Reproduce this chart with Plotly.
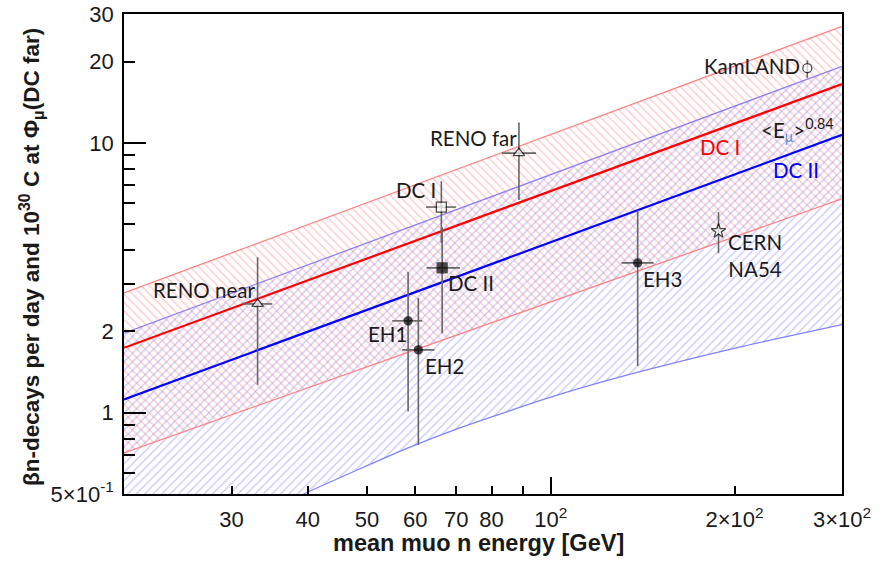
import math
import plotly.graph_objects as go

# ---------------- data ----------------
energy_range = [20, 300]                      # GeV, x-axis extent of the model curves
dc1_line = [1.74, 16.5]                       # DC I  <E>^0.84 fit at 20 and 300 GeV
dc2_line = [1.12, 10.7]                       # DC II <E>^0.84 fit at 20 and 300 GeV
dc1_band_upper = [2.78, 27.0]
dc1_band_lower = [0.71, 6.2]
dc2_band_upper = [1.97, 19.2]
dc2_lower_energy = [20, 30, 39.4, 58, 70.8, 103, 139, 203, 300]
dc2_lower_rate = [0.228, 0.371, 0.5, 0.736, 0.877, 1.166, 1.413, 1.747, 2.12]

exp_names = ["RENO near", "EH1", "EH2", "DC II", "DC I", "RENO far", "EH3", "CERN NA54", "KamLAND"]
exp_energy = [33.1, 58.4, 60.7, 66.4, 66.2, 88.7, 138.8, 188.3, 263.2]
exp_energy_err_minus = [1.8, 3.4, 3.6, 3.8, 3.7, 5.5, 8.1, 0.0, 0.0]
exp_energy_err_plus = [1.9, 3.2, 3.8, 4.6, 3.8, 5.9, 8.6, 0.0, 0.0]
exp_rate = [2.53, 2.19, 1.71, 3.44, 5.78, 9.16, 3.59, 4.71, 18.9]
exp_rate_err_plus = [1.24, 1.13, 0.95, 1.43, 1.43, 2.74, 2.04, 0.83, 1.3]
exp_rate_err_minus = [1.26, 1.18, 0.95, 1.47, 1.53, 3.02, 2.10, 0.81, 1.5]
exp_symbols = ["triangle-up", "circle", "circle", "square", "square", "triangle-up", "circle", "star", "circle"]
exp_fill = ["white", "black", "black", "black", "white", "white", "black", "white", "white"]

x_tick_vals = [30, 40, 50, 60, 70, 80, 100, 200, 300]
x_tick_text = ["30", "40", "50", "60", "70", "80", "10<sup>2</sup>", "2×10<sup>2</sup>", "3×10<sup>2</sup>"]
x_minor_vals = [90]
x_major_vals = [100]
y_tick_vals = [0.5, 1, 2, 10, 20, 30]
y_tick_text = ["5×10<sup>-1</sup>", "1", "2", "10", "20", "30"]
y_minor_vals = [0.6, 0.7, 0.8, 0.9, 3, 4, 5, 6, 7, 8, 9]
y_major_vals = [1, 10]

# ---------------- layout geometry ----------------
# The page body margin is removed (post_script) so the figure fills the
# 885x568 window; plot area at x 124..842, y 14..494.
W, H = 885, 568
ML, MR, MT, MB = 124, 43, 14, 74
PL, PR, PT, PB = 124, 842, 14, 494


def px(x):
    return (x - PL) / (PR - PL)


def py(y):
    return (PB - y) / (PB - PT)


RED_H = "rgba(255,110,110,0.8)"
BLUE_H = "rgba(110,110,255,0.8)"
edge_blue = "rgba(130,130,255,1)"
edge_red = "rgba(255,130,130,1)"

fig = go.Figure()

# DC II band (blue, "/" hatch): lower edge then upper edge filled to it
fig.add_trace(go.Scatter(x=dc2_lower_energy, y=dc2_lower_rate, mode="lines",
                         line=dict(color=edge_blue, width=1.3, shape="spline", smoothing=0.6),
                         hoverinfo="skip", showlegend=False))
fig.add_trace(go.Scatter(x=energy_range, y=dc2_band_upper, mode="lines",
                         line=dict(color=edge_blue, width=1.3),
                         fill="tonexty", fillcolor="rgba(0,0,0,0)",
                         fillpattern=dict(shape="/", size=6, solidity=0.2, fgcolor=BLUE_H,
                                          bgcolor="rgba(0,0,0,0)"),
                         hoverinfo="skip", showlegend=False))
# DC I band (red, "\" hatch)
fig.add_trace(go.Scatter(x=energy_range, y=dc1_band_lower, mode="lines",
                         line=dict(color=edge_red, width=1.3),
                         hoverinfo="skip", showlegend=False))
fig.add_trace(go.Scatter(x=energy_range, y=dc1_band_upper, mode="lines",
                         line=dict(color=edge_red, width=1.3),
                         fill="tonexty", fillcolor="rgba(0,0,0,0)",
                         fillpattern=dict(shape="\\", size=6, solidity=0.2, fgcolor=RED_H,
                                          bgcolor="rgba(0,0,0,0)"),
                         hoverinfo="skip", showlegend=False))

# central lines
fig.add_trace(go.Scatter(x=energy_range, y=dc1_line, mode="lines",
                         line=dict(color="#ff0000", width=2.2), hoverinfo="skip", showlegend=False))
fig.add_trace(go.Scatter(x=energy_range, y=dc2_line, mode="lines",
                         line=dict(color="#0000ff", width=2.2), hoverinfo="skip", showlegend=False))

# experimental points
fig.add_trace(go.Scatter(
    x=exp_energy, y=exp_rate, mode="markers", text=exp_names,
    error_x=dict(type="data", symmetric=False, array=exp_energy_err_plus,
                 arrayminus=exp_energy_err_minus, color="#666666", thickness=1.6, width=0),
    error_y=dict(type="data", symmetric=False, array=exp_rate_err_plus,
                 arrayminus=exp_rate_err_minus, color="#666666", thickness=1.6, width=0),
    marker=dict(symbol=exp_symbols, color=exp_fill, size=[10, 8, 8, 10, 10, 10, 8, 11, 9],
                line=dict(color="black", width=1.3)),
    showlegend=False))

# dummy trace for overlay axes (long major ticks)
fig.add_trace(go.Scatter(x=[100], y=[1], xaxis="x2", yaxis="y2", mode="markers",
                         marker=dict(opacity=0), hoverinfo="skip", showlegend=False))

tick_font = dict(family="Liberation Sans, Arial, sans-serif", size=22, color="#1a1a1a")
xr = [math.log10(energy_range[0]), math.log10(energy_range[1])]
yr = [math.log10(0.5), math.log10(30)]

fig.update_layout(
    width=W, height=H,
    margin=dict(l=ML, r=MR, t=MT, b=MB, pad=0, autoexpand=False),
    paper_bgcolor="white", plot_bgcolor="white",
    xaxis=dict(type="log", range=xr, tickvals=x_tick_vals, ticktext=x_tick_text,
               ticks="inside", ticklen=8, tickwidth=1.5, tickcolor="black",
               showline=True, linecolor="black", linewidth=1.5, mirror=True,
               showgrid=False, zeroline=False, tickfont=tick_font, automargin=False,
               ticklabelstandoff=5, ticklabeloverflow="allow",
               minor=dict(tickvals=x_minor_vals, ticks="inside", ticklen=8, tickwidth=1.5,
                          tickcolor="black", showgrid=False)),
    xaxis2=dict(type="log", range=xr, overlaying="x", anchor="y", side="bottom",
                tickvals=x_major_vals, ticks="inside", ticklen=17, tickwidth=1.5,
                tickcolor="black", showticklabels=False, showline=False, showgrid=False,
                zeroline=False, automargin=False),
    yaxis=dict(type="log", range=yr, tickvals=y_tick_vals, ticktext=y_tick_text,
               ticks="inside", ticklen=11, tickwidth=1.5, tickcolor="black",
               showline=True, linecolor="black", linewidth=1.5, mirror=True,
               showgrid=False, zeroline=False, tickfont=tick_font, automargin=False,
               ticklabelstandoff=4, ticklabeloverflow="allow",
               minor=dict(tickvals=y_minor_vals, ticks="inside", ticklen=11, tickwidth=1.5,
                          tickcolor="black", showgrid=False)),
    yaxis2=dict(type="log", range=yr, overlaying="y", anchor="x", side="left",
                tickvals=y_major_vals, ticks="inside", ticklen=22, tickwidth=1.5,
                tickcolor="black", showticklabels=False, showline=False, showgrid=False,
                zeroline=False, automargin=False),
)

lab_font = dict(family="Lato, Open Sans, sans-serif", size=20.5, color="#1a1a1a")
labels = [
    ("RENO near", 204, 290, "center"),
    ("EH1", 387, 334, "center"),
    ("EH2", 444, 366, "center"),
    ("DC I", 416, 190, "center"),
    ("DC II", 471, 283, "center"),
    ("RENO far", 473, 138, "center"),
    ("EH3", 662, 279, "center"),
    ("CERN<br>NA54", 726, 255, "left"),
    ("KamLAND", 802, 66, "right"),
]
for txt, x, y, anc in labels:
    fig.add_annotation(text=txt, x=px(x), y=py(y), xref="paper", yref="paper",
                       xanchor=anc, yanchor="middle", showarrow=False, font=lab_font)

fig.add_annotation(text="&lt;E<sub><span style='color:#5b8fd0'>μ</span></sub>&gt;<sup>0.84</sup>",
                   x=px(836), y=py(130), xref="paper", yref="paper", xanchor="right",
                   yanchor="middle", showarrow=False, font=lab_font)
fig.add_annotation(text="DC I", x=px(720), y=py(147), xref="paper", yref="paper",
                   xanchor="center", yanchor="middle",
                   showarrow=False, font=dict(lab_font, color="#ff0000"))
fig.add_annotation(text="DC II", x=px(796), y=py(170), xref="paper", yref="paper",
                   xanchor="center", yanchor="middle",
                   showarrow=False, font=dict(lab_font, color="#0000ff"))

title_font = dict(family="Liberation Sans, Arial, sans-serif", size=22.5, color="#1a1a1a", weight="bold")
fig.add_annotation(text="mean muo n energy [GeV]", x=px(478), y=py(543), xref="paper", yref="paper",
                   xanchor="center", yanchor="middle",
                   showarrow=False, font=dict(title_font, size=23.5))
fig.add_annotation(text="βn-decays per day and 10<sup>30</sup> C at Φ<sub>μ</sub>(DC far)",
                   x=px(31), y=py(257), xref="paper", yref="paper", textangle=-90,
                   xanchor="center", yanchor="middle",
                   showarrow=False, font=title_font)

fig.write_html("out.html", config={"displayModeBar": False},
               post_script="document.body.style.margin='0px';")
